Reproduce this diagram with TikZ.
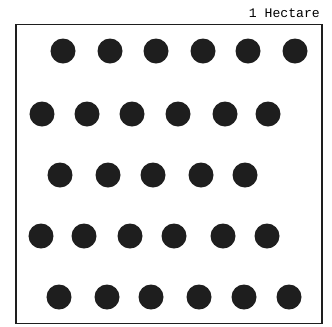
\documentclass[tikz,border=0pt]{standalone}
\usepackage{fontspec}
\newfontfamily\monofont{Liberation Mono}
\usepackage{tikz}
\usetikzlibrary{positioning}
\definecolor{inkDark}{HTML}{1E1E1E}

\begin{document}
\begin{tikzpicture}[x=0.03cm,y=-0.03cm,
    plot/.style={draw=inkDark,line width=1.4pt},
    tree/.style={circle,fill=inkDark,inner sep=0pt,minimum size=0.75cm}]
  \useasboundingbox (0,0) rectangle (332,326);
  \node[draw=none,inner sep=0pt,anchor=base east,font=\monofont\fontsize{11.2}{13}\selectfont] (lbl) at (320,17) {1 Hectare};
  \node[plot,inner sep=0pt,minimum width=9.18cm,minimum height=8.97cm,anchor=north west] (field) at (15,23.5) {};
  % rows of trees
  \foreach \x [count=\i] in {63,110,156,203,248,295}
    \node[tree] (r1-\i) at (\x,51) {};
  \foreach \x [count=\i] in {42,87,132,178,225,268}
    \node[tree] (r2-\i) at (\x,114) {};
  \foreach \x [count=\i] in {60,108,153,201,245}
    \node[tree] (r3-\i) at (\x,175) {};
  \foreach \x [count=\i] in {41,84,130,174,223,267}
    \node[tree] (r4-\i) at (\x,236) {};
  \foreach \x [count=\i] in {59,107,151,199,244,289}
    \node[tree] (r5-\i) at (\x,297) {};
\end{tikzpicture}
\end{document}
